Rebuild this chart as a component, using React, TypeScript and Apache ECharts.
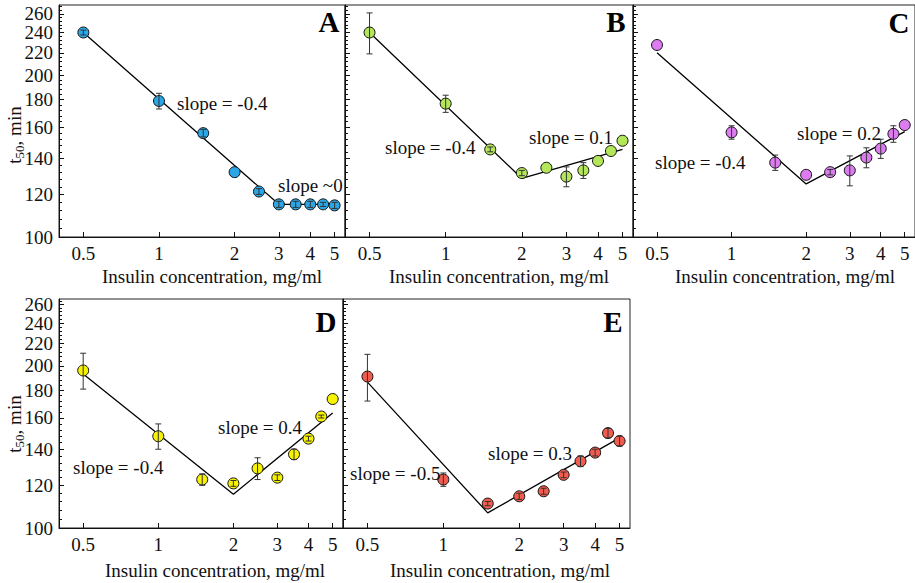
import React, { useEffect, useRef } from 'react';
import * as echarts from 'echarts';

// ---- data ----
const conc = [0.5, 1, 1.5, 2, 2.5, 3, 3.5, 4, 4.5, 5];
const xTicks = [0.5, 1, 2, 3, 4, 5];
const yTicks = [100, 120, 140, 160, 180, 200, 220, 240, 260];
const yLabelsMain = [100, 120, 140, 160, 180, 200, 220, 260];
const yLabelsAlt = [240];
const yMinorTicks = [104, 108, 112, 116, 124, 128, 132, 136, 144, 148, 152, 156, 164, 168, 172, 176,
  184, 188, 192, 196, 204, 208, 212, 216, 224, 228, 232, 236, 244, 248, 252, 256, 264, 268];

const t50A = [240, 179, 156, 132, 121.5, 115, 115, 115, 115, 114.5];
const errA = [2.5, 6, 2.5, 0, 1.5, 1.5, 1.5, 1.5, 1, 1.5];
const fitXA = [0.5, 3, 5];
const fitYA = [240, 115, 115];

const t50B = [240, 177, 145.5, 131.5, 134.5, 129.5, 133, 138.5, 144.5, 151];
const errB = [21, 6.5, 1.5, 1.5, 0, 5.5, 4.5, 0, 0, 0];
const fitXB = [0.5, 2, 5];
const fitYB = [240, 128.5, 145.5];

const t50C = [227.5, 156.5, 137.5, 130.5, 132, 133, 140.5, 146, 155.5, 161.5];
const errC = [0, 4.5, 4.5, 0, 1.5, 8.5, 6, 6, 5.5, 0];
const fitXC = [0.5, 2, 5];
const fitYC = [220, 125.5, 157];

const t50D = [196, 148, 123, 121, 129, 124, 137, 146.5, 161, 173.5];
const errD = [15, 8, 3, 1.5, 6, 1.5, 3, 1.5, 1, 0];
const fitXD = [0.5, 2, 5];
const fitYD = [193, 115.5, 163.5];

const t50E = [191, 123, 111, 114.5, 117, 125.5, 133, 138, 150, 145];
const errE = [19, 3.5, 1, 1.5, 1.5, 1.5, 3, 2, 3, 3];
const fitXE = [0.5, 1.5, 5];
const fitYE = [186.5, 106.7, 147];

const slopeTexts = [
  ['slope = -0.4', 'slope ~0'],
  ['slope = -0.4', 'slope = 0.1'],
  ['slope = -0.4', 'slope = 0.2'],
  ['slope = -0.4', 'slope = 0.4'],
  ['slope = -0.5', 'slope = 0.3'],
];
const letters = ['A', 'B', 'C', 'D', 'E'];
const xTitle = 'Insulin concentration, mg/ml';

const FONT = '"Liberation Serif", "Times New Roman", serif';
const L = (v: number) => Math.log10(v);
const fmt = (v: number) => String(parseFloat(Math.pow(10, v).toPrecision(3)));

const panels = [
  { t: t50A, e: errA, fx: fitXA, fy: fitYA, color: '#2ba6e6', grid: { left: 59, top: 5, width: 286, height: 232 }, ymax: 270, yLabels: true,
    notes: [[177, 103], [278, 185]], letter: [329, 22], xt: [212, 276], yt: [14, 135] },
  { t: t50B, e: errB, fx: fitXB, fy: fitYB, color: '#b4e65a', grid: { left: 345, top: 5, width: 288, height: 232 }, ymax: 270, yLabels: false,
    notes: [[385, 147], [529, 137]], letter: [616, 22], xt: [499, 276] },
  { t: t50C, e: errC, fx: fitXC, fy: fitYC, color: '#dd7cf0', grid: { left: 633, top: 5, width: 288, height: 232 }, ymax: 270, yLabels: false,
    notes: [[655, 162], [797, 133]], letter: [899, 23], xt: [785, 276] },
  { t: t50D, e: errD, fx: fitXD, fy: fitYD, color: '#f7f200', grid: { left: 59, top: 299, width: 284, height: 229 }, ymax: 266, yLabels: true,
    notes: [[73, 467], [218, 427]], letter: [326, 322], xt: [215, 570], yt: [14, 424] },
  { t: t50E, e: errE, fx: fitXE, fy: fitYE, color: '#f25c4e', grid: { left: 343, top: 299, width: 287, height: 229 }, ymax: 266, yLabels: false,
    notes: [[350, 473], [488, 453]], letter: [613, 322], xt: [500, 570] },
];

export default function App() {
  const ref = useRef<HTMLDivElement>(null);
  useEffect(() => {
    document.body.style.margin = '0';
    if (!ref.current) return;
    const chart = echarts.init(ref.current, undefined, { renderer: 'svg' });

    const grids: any[] = [];
    const xAxes: any[] = [];
    const yAxes: any[] = [];
    const series: any[] = [];
    const graphics: any[] = [];
    const labelStyle = { formatter: fmt, margin: 6, color: '#111', fontSize: 19, fontFamily: FONT, lineHeight: 16,
      showMinLabel: true, showMaxLabel: true, hideOverlap: false };

    panels.forEach((p, i) => {
      grids.push({ ...p.grid, show: true, borderColor: '#222', borderWidth: 1, backgroundColor: 'transparent' });
      xAxes.push({
        type: 'value', gridIndex: i, min: L(0.4), max: L(5.5),
        axisLine: { onZero: false, lineStyle: { color: '#111', width: 1 } },
        axisTick: { inside: true, length: 5, customValues: xTicks.map(L), lineStyle: { color: '#111' } },
        axisLabel: { customValues: xTicks.map(L), formatter: fmt, margin: 7, color: '#111', fontSize: 19, fontFamily: FONT,
          showMinLabel: true, showMaxLabel: true, hideOverlap: false },
        splitLine: { show: false },
      });
      const ymin = L(100), ymax = L(p.ymax);
      yAxes.push({
        type: 'value', gridIndex: i, min: ymin, max: ymax, position: 'left',
        axisLine: { onZero: false, lineStyle: { color: '#111', width: 1 } },
        axisTick: { inside: true, length: 5, customValues: yTicks.map(L), lineStyle: { color: '#111' } },
        axisLabel: { show: p.yLabels, customValues: yLabelsMain.map(L), ...labelStyle },
        splitLine: { show: false },
      });
      yAxes.push({
        type: 'value', gridIndex: i, min: ymin, max: ymax, position: 'left',
        axisLine: { show: false, onZero: false },
        axisTick: { inside: true, length: 3, customValues: yMinorTicks.map(L), lineStyle: { color: '#111' } },
        axisLabel: { show: p.yLabels, customValues: yLabelsAlt.map(L), ...labelStyle },
        splitLine: { show: false },
      });

      series.push({
        type: 'line', xAxisIndex: i, yAxisIndex: 2 * i, silent: true,
        data: p.fx.map((x, k) => [L(x), L(p.fy[k])]),
        symbol: 'none', lineStyle: { color: '#000', width: 1.3 }, z: 2,
      });
      series.push({
        type: 'scatter', xAxisIndex: i, yAxisIndex: 2 * i,
        data: conc.map((x, k) => [L(x), L(p.t[k])]),
        symbol: 'circle', symbolSize: 11,
        itemStyle: { color: p.color, borderColor: '#111', borderWidth: 1, opacity: 1 }, z: 3,
      });
      series.push({
        type: 'custom', xAxisIndex: i, yAxisIndex: 2 * i, z: 4, silent: true,
        data: conc.map((x, k) => [L(x), L(p.t[k] - p.e[k]), L(p.t[k] + p.e[k]), p.e[k]]).filter((d) => d[3] > 0),
        encode: { x: 0, y: [1, 2] },
        renderItem: (_params: any, api: any) => {
          const x = api.value(0);
          const lo = api.coord([x, api.value(1)]);
          const hi = api.coord([x, api.value(2)]);
          const w = 3;
          const st = { stroke: '#333', lineWidth: 1 };
          return {
            type: 'group',
            children: [
              { type: 'line', shape: { x1: lo[0], y1: lo[1], x2: hi[0], y2: hi[1] }, style: st },
              { type: 'line', shape: { x1: lo[0] - w, y1: lo[1], x2: lo[0] + w, y2: lo[1] }, style: st },
              { type: 'line', shape: { x1: hi[0] - w, y1: hi[1], x2: hi[0] + w, y2: hi[1] }, style: st },
            ],
          };
        },
      });

      // annotations
      p.notes.forEach((pos, k) => {
        graphics.push({
          type: 'text', x: pos[0], y: pos[1], z: 10,
          style: { text: slopeTexts[i][k], fontSize: 19, fontFamily: FONT, fill: '#111', align: 'left', verticalAlign: 'middle' },
        });
      });
      graphics.push({
        type: 'text', x: p.letter[0], y: p.letter[1], z: 10,
        style: { text: letters[i], fontSize: 29, fontWeight: 'bold', fontFamily: FONT, fill: '#000', align: 'center', verticalAlign: 'middle' },
      });
      graphics.push({
        type: 'text', x: p.xt[0], y: p.xt[1], z: 10,
        style: { text: xTitle, fontSize: 19, fontFamily: FONT, fill: '#111', align: 'center', verticalAlign: 'middle' },
      });
      if (p.yt) {
        graphics.push({
          type: 'text', x: p.yt[0], y: p.yt[1], rotation: Math.PI / 2, z: 10,
          style: {
            text: '{a|t}{b|50}{a|, min}', align: 'center', verticalAlign: 'middle',
            rich: {
              a: { fontSize: 19, fontFamily: FONT, fill: '#111', lineHeight: 24 },
              b: { fontSize: 13, fontFamily: FONT, fill: '#111', verticalAlign: 'bottom' },
            },
          },
        });
      }
    });

    chart.setOption({
      animation: false,
      backgroundColor: '#fff',
      grid: grids,
      xAxis: xAxes,
      yAxis: yAxes,
      series,
      graphic: graphics,
    });
    return () => chart.dispose();
  }, []);
  return <div ref={ref} style={{ position: 'absolute', left: 0, top: 0, width: 915, height: 583 }} />;
}
